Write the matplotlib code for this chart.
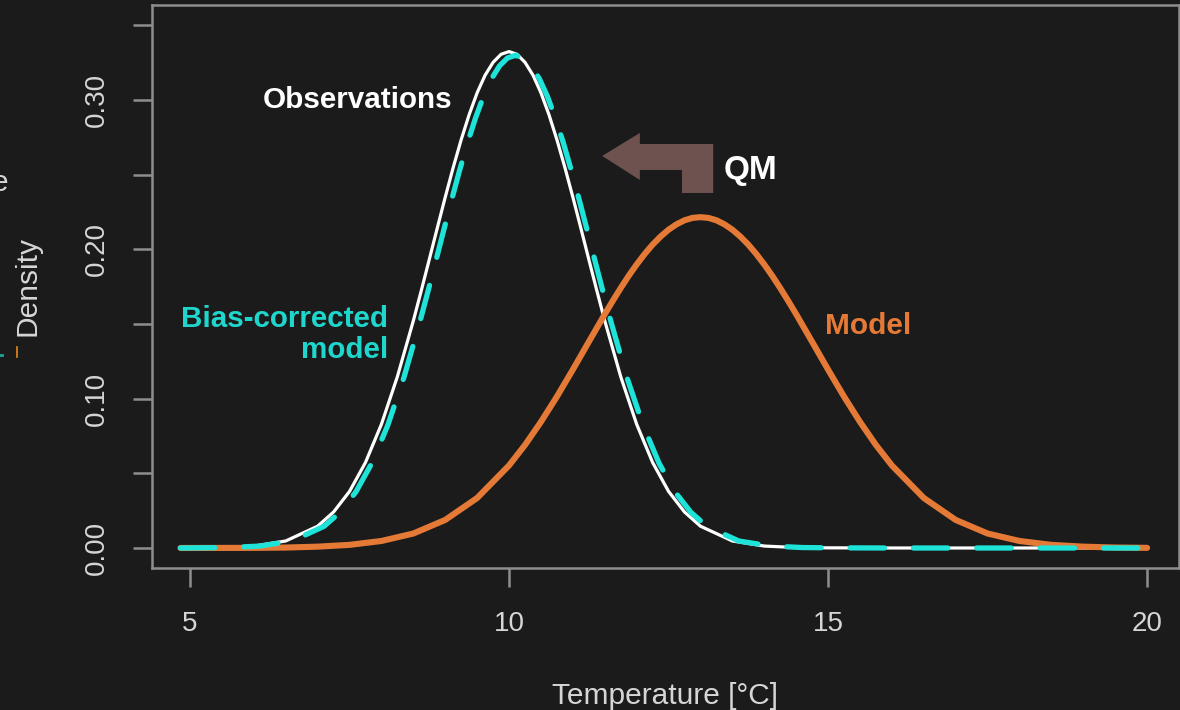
import matplotlib.pyplot as plt
from matplotlib.patches import Polygon
from matplotlib.lines import Line2D

plt.rcParams["font.family"] = ["Liberation Sans", "DejaVu Sans"]

BG = "#1b1b1b"
FG = "#d6d6d6"
AXC = "#8e8e8e"

# observations (white)
obs_x = [4.85, 5.5, 6.0, 6.5, 7.0, 7.25, 7.5, 7.75, 8.0, 8.25, 8.5, 8.625, 8.75, 8.875, 9.0,
         9.125, 9.25, 9.375, 9.5, 9.625, 9.75, 9.875, 10.0, 10.125, 10.25, 10.375, 10.5, 10.625,
         10.75, 10.875, 11.0, 11.125, 11.25, 11.375, 11.5, 11.75, 12.0, 12.25, 12.5, 12.75, 13.0,
         13.5, 14.0, 14.5, 15.0, 16.0, 17.0, 18.0, 19.0, 20.0]
obs_y = [0.0000, 0.0003, 0.0013, 0.0047, 0.0146, 0.0241, 0.0379, 0.0573, 0.0829, 0.1148, 0.1522,
         0.1725, 0.1933, 0.2143, 0.2350, 0.2549, 0.2735, 0.2903, 0.3049, 0.3167, 0.3253, 0.3307,
         0.3325, 0.3307, 0.3253, 0.3167, 0.3049, 0.2903, 0.2735, 0.2549, 0.2350, 0.2143, 0.1933,
         0.1725, 0.1522, 0.1148, 0.0829, 0.0573, 0.0379, 0.0241, 0.0146, 0.0047, 0.0013, 0.0003,
         0.0001, 0.0, 0.0, 0.0, 0.0, 0.0]

# bias-corrected model (cyan dashed)
bc_x = [4.85, 5.6, 6.1, 6.6, 7.1, 7.35, 7.6, 7.85, 8.1, 8.35, 8.6, 8.725, 8.85, 8.975, 9.1,
        9.225, 9.35, 9.475, 9.6, 9.725, 9.85, 9.975, 10.1, 10.225, 10.35, 10.475, 10.6, 10.725,
        10.85, 10.975, 11.1, 11.225, 11.35, 11.475, 11.6, 11.85, 12.1, 12.35, 12.6, 12.85, 13.1,
        13.6, 14.1, 14.6, 15.1, 16.0, 17.0, 18.0, 19.0, 20.0]
bc_y = [0.0000, 0.0003, 0.0013, 0.0047, 0.0145, 0.0239, 0.0376, 0.0569, 0.0823, 0.1139, 0.1511,
        0.1712, 0.1918, 0.2127, 0.2332, 0.2530, 0.2715, 0.2881, 0.3026, 0.3143, 0.3229, 0.3282,
        0.3300, 0.3282, 0.3229, 0.3143, 0.3026, 0.2881, 0.2715, 0.2530, 0.2332, 0.2127, 0.1918,
        0.1712, 0.1511, 0.1139, 0.0823, 0.0569, 0.0376, 0.0239, 0.0145, 0.0047, 0.0013, 0.0003,
        0.0001, 0.0, 0.0, 0.0, 0.0, 0.0]

# raw model (orange)
mod_x = [4.85, 6.0, 6.5, 7.0, 7.5, 8.0, 8.5, 9.0, 9.5, 10.0, 10.25, 10.5, 10.75, 11.0, 11.25,
         11.5, 11.625, 11.75, 11.875, 12.0, 12.125, 12.25, 12.375, 12.5, 12.625, 12.75, 12.875,
         13.0, 13.125, 13.25, 13.375, 13.5, 13.625, 13.75, 13.875, 14.0, 14.125, 14.25, 14.375,
         14.5, 14.75, 15.0, 15.25, 15.5, 15.75, 16.0, 16.5, 17.0, 17.5, 18.0, 18.5, 19.0, 19.5,
         20.0]
mod_y = [0.0000, 0.0001, 0.0003, 0.0009, 0.0021, 0.0047, 0.0097, 0.0188, 0.0335, 0.0553, 0.0690,
         0.0845, 0.1014, 0.1195, 0.1381, 0.1566, 0.1655, 0.1741, 0.1823, 0.1899, 0.1969, 0.2032,
         0.2086, 0.2132, 0.2168, 0.2195, 0.2211, 0.2216, 0.2211, 0.2195, 0.2168, 0.2132, 0.2086,
         0.2032, 0.1969, 0.1899, 0.1823, 0.1741, 0.1655, 0.1566, 0.1381, 0.1195, 0.1014, 0.0845,
         0.0690, 0.0553, 0.0335, 0.0188, 0.0097, 0.0047, 0.0021, 0.0009, 0.0003, 0.0001]

x_ticks = [5, 10, 15, 20]
y_ticks = [0.00, 0.05, 0.10, 0.15, 0.20, 0.25, 0.30, 0.35]
y_labels = ["0.00", "", "0.10", "", "0.20", "", "0.30", ""]

fig = plt.figure(figsize=(11.8, 7.1), dpi=100, facecolor=BG)
ax = fig.add_axes([152 / 1180, 142 / 710, 1027 / 1180, 563 / 710], facecolor=BG)

ax.plot(obs_x, obs_y, color="white", lw=2.3, solid_capstyle="round", zorder=3)
ax.plot(mod_x, mod_y, color="#e57a37", lw=4.4, solid_capstyle="round", zorder=4)
ax.plot(bc_x, bc_y, color="#1de3d8", lw=3.8, dashes=(6.5, 5.5), dash_capstyle="round", zorder=5)

ax.set_xlim(4.404, 20.50)
ax.set_ylim(-0.0134, 0.3637)
ax.set_xticks(x_ticks)
ax.set_yticks(y_ticks)
ax.set_yticklabels(y_labels, rotation=90, va="center")

for s in ax.spines.values():
    s.set_color(AXC)
    s.set_linewidth(1.8)
ax.tick_params(colors=AXC, labelcolor=FG, direction="out", length=14, width=1.8,
               labelsize=20, pad=17)
ax.tick_params(axis="y", pad=16)

ax.set_xlabel("Temperature [°C]", color=FG, fontsize=21.5, labelpad=32)
fig.text(27 / 1180, 1 - 286 / 710, "Density", color=FG, fontsize=21.5, rotation=90,
         ha="center", va="center")
fig.text(0.0, 1 - 183 / 710, "e", color=FG, fontsize=21.5, ha="center", va="center")
fig.add_artist(Line2D([17 / 1180, 17 / 1180], [1 - 347 / 710, 1 - 357 / 710],
                      color="#e8891a", lw=1.2))
fig.add_artist(Line2D([0, 2 / 1180], [1 - 355 / 710, 1 - 355 / 710], color="#1aa89e", lw=2))

# QM arrow
arrow = [(11.46, 0.2626), (12.05, 0.278), (12.05, 0.2706), (13.20, 0.2706), (13.20, 0.2378),
         (12.71, 0.2378), (12.71, 0.2532), (12.05, 0.2532), (12.05, 0.2465)]
ax.add_patch(Polygon(arrow, closed=True, facecolor="#6d5250", edgecolor="none", zorder=2))

ax.text(7.62, 0.300, "Observations", color="white", fontsize=21.3, fontweight="bold",
        ha="center", va="center")
ax.text(13.79, 0.253, "QM", color="white", fontsize=24, fontweight="bold",
        ha="center", va="center")
ax.text(8.10, 0.143, "Bias-corrected\nmodel", color="#1fd6cc", fontsize=21.3, fontweight="bold",
        ha="right", va="center", linespacing=1.1)
ax.text(15.63, 0.149, "Model", color="#e57a37", fontsize=21.5, fontweight="bold",
        ha="center", va="center")

fig.savefig("out.png", dpi=100, facecolor=BG)
